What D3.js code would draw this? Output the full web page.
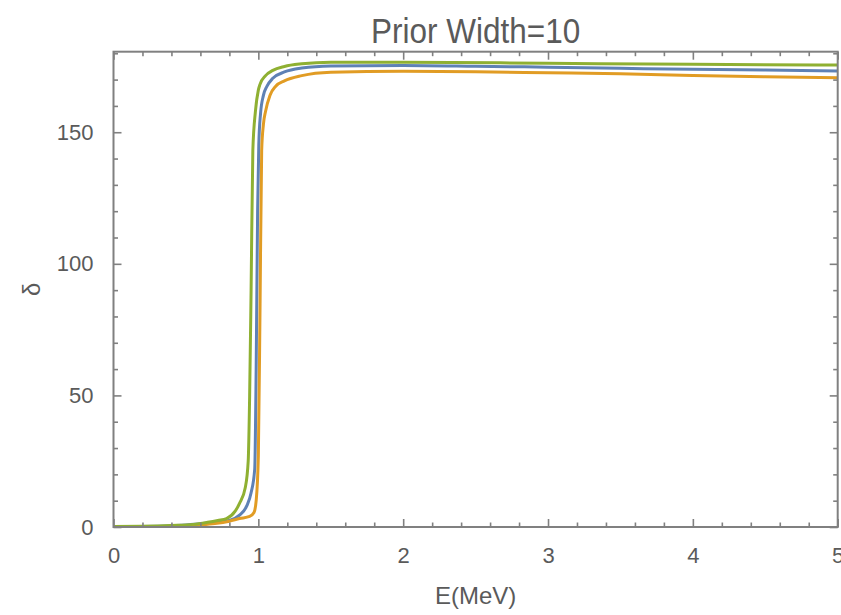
<!DOCTYPE html>
<html>
<head>
<meta charset="utf-8">
<script src="https://cdn.jsdelivr.net/npm/d3@7"></script>
<style>
  body { margin: 0; background: #fff; }
  text { font-family: "Liberation Sans", Arial, sans-serif; fill: #5a5a5a; }
</style>
</head>
<body>
<div id="chart"></div>
<script>
// energies (MeV) and phase shifts
const blueE = [0, 0.2, 0.4, 0.5, 0.6, 0.7, 0.8, 0.87, 0.92, 0.95, 0.975, 0.985, 0.995, 1.003, 1.015, 1.035, 1.06, 1.1, 1.18, 1.3, 1.5, 2, 2.5, 3, 3.5, 4, 4.5, 5];
const blueD = [0.1, 0.2, 0.5, 0.8, 1.2, 1.8, 2.5, 4.5, 8, 13, 22, 60, 120, 145, 157, 164, 167.5, 170.5, 172.9, 174.4, 175.2, 175.4, 175.1, 174.7, 174.3, 173.9, 173.6, 173.3];

const orangeE = [0, 0.2, 0.4, 0.6, 0.7, 0.8, 0.87, 0.94, 0.97, 0.985, 1.0, 1.012, 1.023, 1.035, 1.05, 1.08, 1.12, 1.18, 1.3, 1.5, 2, 2.5, 3, 3.5, 4, 4.5, 5];
const orangeD = [0, 0.1, 0.3, 0.8, 1.3, 2.2, 3.2, 4, 5.5, 10, 27, 85, 143, 153, 158, 164, 167.5, 169.5, 171.5, 172.8, 173.2, 173, 172.6, 172.2, 171.6, 171.1, 170.7];

const greenE = [0, 0.2, 0.4, 0.55, 0.65, 0.72, 0.78, 0.84, 0.87, 0.91, 0.93, 0.94, 0.95, 0.962, 0.98, 1.0, 1.01, 1.05, 1.1, 1.18, 1.3, 1.5, 2, 3, 4, 5];
const greenD = [0.2, 0.3, 0.6, 1.0, 1.8, 2.5, 3.2, 6, 9, 15, 25, 50, 90, 143, 158, 166, 168, 171.5, 173.5, 175, 176, 176.6, 176.6, 176.2, 175.8, 175.5];

const xMajor = [0, 1, 2, 3, 4, 5];
const yMajor = [0, 50, 100, 150];

const width = 841, height = 615;
const mLeft = 113.5, mRight = 837.7, mTop = 51.7, mBottom = 527;

const x = d3.scaleLinear().domain([0, 5]).range([mLeft, mRight]);
const y = d3.scaleLinear().domain([0, 180.6]).range([mBottom, mTop]);

const svg = d3.select("#chart").append("svg")
    .attr("width", width)
    .attr("height", height);

const series = [
    { E: blueE, d: blueD, color: "#5e81b5" },
    { E: orangeE, d: orangeD, color: "#e19c24" },
    { E: greenE, d: greenD, color: "#8fb032" }
];

const line = d3.line()
    .x(p => x(p[0]))
    .y(p => y(p[1]))
    .curve(d3.curveMonotoneX);

svg.append("clipPath").attr("id", "clip")
    .append("rect")
    .attr("x", mLeft).attr("y", mTop)
    .attr("width", mRight - mLeft).attr("height", mBottom - mTop);

const plot = svg.append("g").attr("clip-path", "url(#clip)");
series.forEach(s => {
    plot.append("path")
        .datum(d3.zip(s.E, s.d))
        .attr("fill", "none")
        .attr("stroke", s.color)
        .attr("stroke-width", 3)
        .attr("stroke-linejoin", "round")
        .attr("d", line);
});

// ticks on all four sides, pointing in
const xMinor = d3.range(0, 5.001, 0.2).filter(v => Math.abs(v - Math.round(v)) > 1e-6);
const yMinor = d3.range(0, 180.01, 10).filter(v => v % 50 !== 0);

function addAxis(axis, tx, ty, vals, size, labels) {
    const g = svg.append("g")
        .attr("transform", `translate(${tx},${ty})`)
        .call(axis.tickValues(vals).tickSize(size).tickPadding(labels ? -size + 12 : 0)
            .tickFormat(labels ? d3.format("d") : ""));
    g.select(".domain").remove();
    g.selectAll(".tick line").attr("stroke", "#808080").attr("stroke-width", 1.6);
    g.selectAll(".tick text").style("font-size", "22px").attr("fill", "#5a5a5a");
    return g;
}

addAxis(d3.axisBottom(x), 0, mBottom, xMinor, -4.5, false);
addAxis(d3.axisBottom(x), 0, mBottom, xMajor, -8, true);
addAxis(d3.axisTop(x), 0, mTop, xMinor, -4.5, false);
addAxis(d3.axisTop(x), 0, mTop, xMajor, -8, false);
addAxis(d3.axisLeft(y), mLeft, 0, yMinor, -4.5, false);
addAxis(d3.axisLeft(y), mLeft, 0, yMajor, -8, true);
addAxis(d3.axisRight(y), mRight, 0, yMinor, -4.5, false);
addAxis(d3.axisRight(y), mRight, 0, yMajor, -8, false);

svg.append("rect")
    .attr("x", mLeft).attr("y", mTop)
    .attr("width", mRight - mLeft).attr("height", mBottom - mTop)
    .attr("fill", "none")
    .attr("stroke", "#808080")
    .attr("stroke-width", 2);

// title is drawn a little narrow, like the original
svg.append("text")
    .attr("transform", `translate(${(mLeft + mRight) / 2},43) scale(0.9,1)`)
    .attr("text-anchor", "middle")
    .style("font-size", "35px")
    .text("Prior Width=10");

svg.append("text")
    .attr("x", (mLeft + mRight) / 2)
    .attr("y", 604)
    .attr("text-anchor", "middle")
    .style("font-size", "24px")
    .text("E(MeV)");

svg.append("text")
    .attr("transform", `translate(40,${(mTop + mBottom) / 2}) rotate(-90)`)
    .attr("text-anchor", "middle")
    .style("font-size", "24px")
    .text("δ");
</script>
</body>
</html>
